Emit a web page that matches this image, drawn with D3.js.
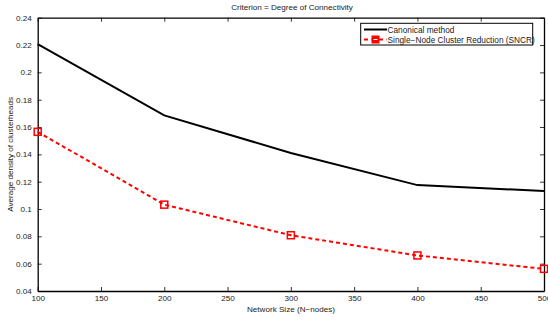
<!DOCTYPE html>
<html><head><meta charset="utf-8">
<script src="https://cdn.jsdelivr.net/npm/d3@7"></script>
<style>body{margin:0;background:#fff;} svg{display:block;font-family:"Liberation Sans",Arial,sans-serif;}</style>
</head><body><svg id="c" width="548" height="320"></svg>
<script>
const networkSizes = [100, 200, 300, 400, 500];
const canonical = [0.2206, 0.1685, 0.1410, 0.1175, 0.1132];
const sncr = [0.1565, 0.1032, 0.0808, 0.0660, 0.0562];
const xTicks = [100, 150, 200, 250, 300, 350, 400, 450, 500];
const yTicks = [0.04, 0.06, 0.08, 0.1, 0.12, 0.14, 0.16, 0.18, 0.2, 0.22, 0.24];
const seriesNames = ["Canonical method", "Single\u2212Node Cluster Reduction (SNCR)"];

const svg = d3.select("#c");
const L = 37.7, R = 544, T = 17.7, B = 291;
const FS = "8.1px";
const x = d3.scaleLinear().domain([100, 500]).range([L, R]);
const y = d3.scaleLinear().domain([0.04, 0.24]).range([B, T]);
const fmtY = d => d3.format("")(+d.toFixed(2));

// axes
const axB = svg.append("g").attr("transform", `translate(0,${B})`)
  .call(d3.axisBottom(x).tickValues(xTicks).tickSizeInner(-4).tickSizeOuter(0).tickPadding(6).tickFormat(d3.format("d")));
const axT = svg.append("g").attr("transform", `translate(0,${T})`)
  .call(d3.axisTop(x).tickValues(xTicks).tickSizeInner(-4).tickSizeOuter(0).tickFormat(""));
const axL = svg.append("g").attr("transform", `translate(${L},0)`)
  .call(d3.axisLeft(y).tickValues(yTicks).tickSizeInner(-4).tickSizeOuter(0).tickPadding(6).tickFormat(fmtY));
const axR = svg.append("g").attr("transform", `translate(${R},0)`)
  .call(d3.axisRight(y).tickValues(yTicks).tickSizeInner(-4).tickSizeOuter(0).tickFormat(""));
[axB, axT, axL, axR].forEach(g => {
  g.select(".domain").attr("stroke", "#000").attr("stroke-width", 1.3);
  g.selectAll(".tick line").attr("stroke", "#000").attr("stroke-width", 0.8);
  g.selectAll("text").attr("fill", "#222").style("font-size", FS).style("font-family", "Liberation Sans, Arial, sans-serif");
});
axB.selectAll("text").attr("dy", "0.45em");

// lines
const line = d3.line().x((d, i) => x(networkSizes[i])).y(d => y(d));
svg.append("path").datum(canonical).attr("d", line).attr("fill", "none")
  .attr("stroke", "#000").attr("stroke-width", 2);
svg.append("path").datum(sncr).attr("d", line).attr("fill", "none")
  .attr("stroke", "#ff0000").attr("stroke-width", 2).attr("stroke-dasharray", "4,3");
svg.selectAll(".mk").data(sncr).enter().append("rect")
  .attr("x", (d, i) => x(networkSizes[i]) - 3.5).attr("y", d => y(d) - 3.5)
  .attr("width", 7).attr("height", 7).attr("fill", "none")
  .attr("stroke", "#ff0000").attr("stroke-width", 1.5);

// title and labels
svg.append("text").attr("x", 292).attr("y", 10).attr("text-anchor", "middle")
  .style("font-size", FS).attr("fill", "#222").text("Criterion = Degree of Connectivity");
svg.append("text").attr("x", 291).attr("y", 312).attr("text-anchor", "middle")
  .style("font-size", FS).attr("fill", "#222").text("Network Size (N\u2212nodes)");
svg.append("text").attr("transform", `translate(13,${(T + B) / 2}) rotate(-90)`).attr("text-anchor", "middle")
  .style("font-size", FS).attr("fill", "#222").text("Average density of clusterheads");

// legend
const lg = svg.append("g");
lg.append("rect").attr("x", 360.7).attr("y", 23.3).attr("width", 172).attr("height", 21.7)
  .attr("fill", "#fff").attr("stroke", "#000").attr("stroke-width", 1);
lg.append("line").attr("x1", 364).attr("x2", 387).attr("y1", 29.5).attr("y2", 29.5)
  .attr("stroke", "#000").attr("stroke-width", 2);
lg.append("line").attr("x1", 364).attr("x2", 387).attr("y1", 39.5).attr("y2", 39.5)
  .attr("stroke", "#ff0000").attr("stroke-width", 2).attr("stroke-dasharray", "4,3.5");
lg.append("rect").attr("x", 372).attr("y", 36).attr("width", 7).attr("height", 7)
  .attr("fill", "#ff0000").attr("stroke", "#ff0000").attr("stroke-width", 1);
lg.append("line").attr("x1", 373.5).attr("x2", 377.5).attr("y1", 39.5).attr("y2", 39.5).attr("stroke", "#fff").attr("stroke-width", 1);
lg.selectAll(".lt").data(seriesNames).enter().append("text")
  .attr("x", 387.5).attr("y", (d, i) => 32.5 + i * 10)
  .style("font-size", "8.3px").attr("fill", "#222").text(d => d);
</script></body></html>
